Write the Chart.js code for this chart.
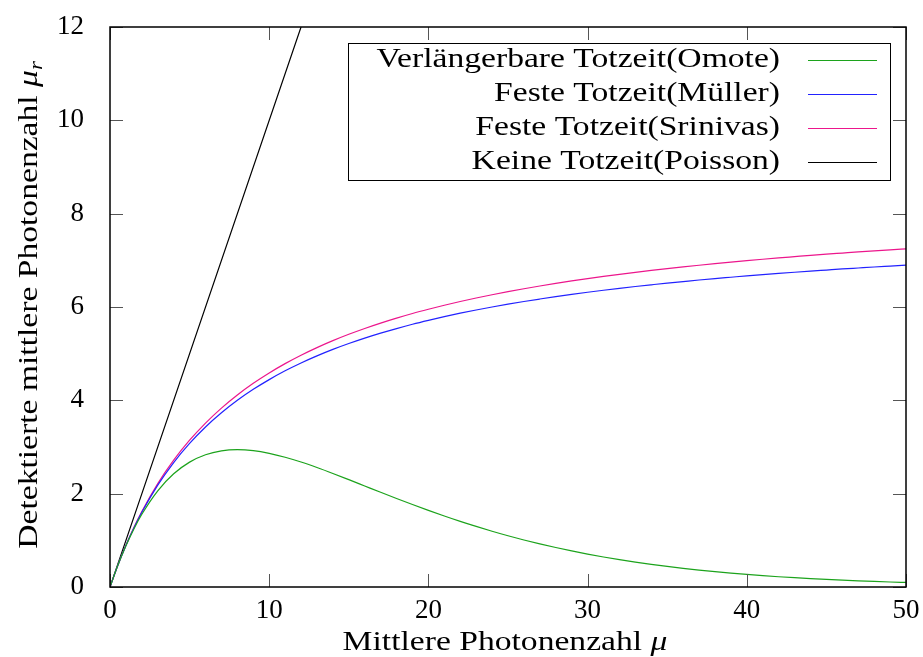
<!DOCTYPE html>
<html>
<head>
<meta charset="utf-8">
<script src="https://cdn.jsdelivr.net/npm/chart.js@4/dist/chart.umd.min.js"></script>
<style>
  html, body { margin: 0; padding: 0; background: #fff; }
  #wrap { width: 923px; height: 657px; }
</style>
</head>
<body>
<div id="wrap"><canvas id="chart" width="923" height="657"></canvas></div>
<script>
// Werte
const muWerte = [0, 0.5, 1, 1.5, 2, 3, 4, 5, 6, 7, 8, 9, 10, 11, 12, 13, 14, 15, 16, 17, 18, 19, 20,
                 21, 22, 23, 24, 25, 26, 27, 28, 29, 30, 31, 32, 33, 34, 35, 36, 37, 38, 39, 40,
                 41, 42, 43, 44, 45, 46, 47, 48, 49, 50];
const omote = [0, 0.470, 0.882, 1.244, 1.558, 2.062, 2.426, 2.676, 2.834, 2.918, 2.943, 2.922, 2.865, 2.781, 2.678, 2.560, 2.433, 2.300, 2.165, 2.030, 1.897, 1.767, 1.642,
               1.521, 1.406, 1.298, 1.195, 1.098, 1.008, 0.924, 0.846, 0.773, 0.706, 0.643, 0.586, 0.533, 0.485, 0.441, 0.400, 0.363, 0.329, 0.298, 0.270,
               0.244, 0.220, 0.199, 0.180, 0.162, 0.146, 0.132, 0.119, 0.107, 0.097];
const mueller = [0, 0.471, 0.889, 1.263, 1.600, 2.182, 2.667, 3.077, 3.429, 3.733, 4.000, 4.235, 4.444, 4.632, 4.800, 4.952, 5.091, 5.217, 5.333, 5.440, 5.538, 5.630, 5.714,
                 5.793, 5.867, 5.935, 6.000, 6.061, 6.118, 6.171, 6.222, 6.270, 6.316, 6.359, 6.400, 6.439, 6.476, 6.512, 6.545, 6.578, 6.609, 6.638, 6.667,
                 6.694, 6.720, 6.745, 6.769, 6.792, 6.815, 6.836, 6.857, 6.877, 6.897];
const srinivas = [0, 0.472, 0.894, 1.274, 1.618, 2.216, 2.717, 3.145, 3.513, 3.834, 4.115, 4.365, 4.587, 4.787, 4.967, 5.130, 5.279, 5.415, 5.540, 5.655, 5.762, 5.861, 5.952,
                  6.038, 6.118, 6.193, 6.263, 6.329, 6.391, 6.450, 6.506, 6.558, 6.608, 6.655, 6.700, 6.743, 6.784, 6.823, 6.860, 6.895, 6.929, 6.962, 6.993,
                  7.023, 7.052, 7.079, 7.106, 7.132, 7.156, 7.180, 7.203, 7.225, 7.246];
const poissonMu = [0, 12];
const poisson = [0, 12];

const xTicks = [0, 10, 20, 30, 40, 50];
const yTicks = [0, 2, 4, 6, 8, 10, 12];

const labels = ['Verlängerbare Totzeit(Omote)', 'Feste Totzeit(Müller)', 'Feste Totzeit(Srinivas)', 'Keine Totzeit(Poisson)'];

const COLORS = {
    omote: '#1ca31c',
    mueller: '#2222ff',
    srinivas: '#ec168c',
    poisson: '#000000'
};

const FONT = '"Liberation Serif", "DejaVu Serif", serif';
// Computer-Modern-Schrift ist breiter als Times: Text horizontal strecken
const STRETCH = 1.2;

function punkte(xs, ys) {
    return xs.map((x, i) => ({ x: x, y: ys[i] }));
}

function serie(label, xs, ys, color) {
    return {
        label: label,
        data: punkte(xs, ys),
        borderColor: color,
        backgroundColor: color,
        borderWidth: 1.2,
        pointRadius: 0,
        cubicInterpolationMode: 'monotone',
        fill: false
    };
}

// Textteile [text, font, dy] nacheinander zeichnen, zentriert um (0,0)
function teileZeichnen(ctx, teile) {
    let breite = 0;
    teile.forEach(t => { ctx.font = t[1]; breite += ctx.measureText(t[0]).width; });
    let x = -breite / 2;
    ctx.textAlign = 'left';
    teile.forEach(t => {
        ctx.font = t[1];
        ctx.fillText(t[0], x, t[2]);
        x += ctx.measureText(t[0]).width;
    });
}

// Rahmen, Ticks nach innen, Legende und Achsentitel im gnuplot-Stil
const gnuplotStil = {
    id: 'gnuplotStil',
    afterDraw(chart) {
        const ctx = chart.ctx;
        const a = chart.chartArea;
        const xs = chart.scales.x;
        const ys = chart.scales.y;
        ctx.save();

        // Ticks
        ctx.strokeStyle = '#555';
        ctx.lineWidth = 1;
        const len = 13;
        ctx.beginPath();
        xTicks.forEach(v => {
            const px = Math.round(xs.getPixelForValue(v)) + 0.5;
            ctx.moveTo(px, a.bottom); ctx.lineTo(px, a.bottom - len);
            ctx.moveTo(px, a.top); ctx.lineTo(px, a.top + len);
        });
        yTicks.forEach(v => {
            const py = Math.round(ys.getPixelForValue(v)) + 0.5;
            ctx.moveTo(a.left, py); ctx.lineTo(a.left + len, py);
            ctx.moveTo(a.right, py); ctx.lineTo(a.right - len, py);
        });
        ctx.stroke();

        // Rahmen
        ctx.strokeStyle = '#000';
        ctx.lineWidth = 1.5;
        ctx.strokeRect(a.left, a.top, a.right - a.left, a.bottom - a.top);

        // Legende
        const box = { left: 348.5, top: 43.5, right: 890.5, bottom: 180.5 };
        ctx.fillStyle = '#fff';
        ctx.fillRect(box.left, box.top, box.right - box.left, box.bottom - box.top);
        ctx.lineWidth = 1;
        ctx.strokeStyle = '#000';
        ctx.strokeRect(box.left, box.top, box.right - box.left, box.bottom - box.top);
        chart.data.datasets.forEach((ds, i) => {
            const yRow = 60 + i * 34;
            ctx.save();
            ctx.translate(780, yRow);
            ctx.scale(STRETCH, 1);
            ctx.font = '28px ' + FONT;
            ctx.textAlign = 'right';
            ctx.textBaseline = 'middle';
            ctx.fillStyle = '#000';
            ctx.fillText(ds.label, 0, 0);
            ctx.restore();
            ctx.strokeStyle = ds.borderColor;
            ctx.lineWidth = 1.2;
            ctx.beginPath();
            ctx.moveTo(808, Math.round(yRow) + 0.5);
            ctx.lineTo(877, Math.round(yRow) + 0.5);
            ctx.stroke();
        });

        ctx.fillStyle = '#000';
        ctx.textBaseline = 'alphabetic';

        // x-Achsentitel
        ctx.save();
        ctx.translate(505, 650);
        ctx.scale(STRETCH, 1);
        teileZeichnen(ctx, [
            ['Mittlere Photonenzahl ', '28px ' + FONT, 0],
            ['μ', 'italic 28px ' + FONT, 0]
        ]);
        ctx.restore();

        // y-Achsentitel (gedreht)
        ctx.save();
        ctx.translate(37, 305);
        ctx.rotate(-Math.PI / 2);
        ctx.scale(STRETCH, 1);
        teileZeichnen(ctx, [
            ['Detektierte mittlere Photonenzahl ', '28px ' + FONT, 0],
            ['μ', 'italic 28px ' + FONT, 0],
            ['r', 'italic 19px ' + FONT, 5]
        ]);
        ctx.restore();

        ctx.restore();
    }
};

new Chart(document.getElementById('chart').getContext('2d'), {
    type: 'line',
    data: {
        datasets: [
            serie(labels[0], muWerte, omote, COLORS.omote),
            serie(labels[1], muWerte, mueller, COLORS.mueller),
            serie(labels[2], muWerte, srinivas, COLORS.srinivas),
            serie(labels[3], poissonMu, poisson, COLORS.poisson)
        ]
    },
    options: {
        responsive: false,
        animation: false,
        layout: { padding: { top: 27, right: 17, left: 0, bottom: 0 } },
        plugins: {
            legend: { display: false },
            tooltip: { enabled: false }
        },
        scales: {
            x: {
                type: 'linear',
                min: 0,
                max: 50,
                afterFit: s => { s.height = 70; s.paddingLeft = 0; s.paddingRight = 0; },
                afterBuildTicks: s => { s.ticks = xTicks.map(v => ({ value: v })); },
                grid: { display: false, drawTicks: false },
                border: { display: false },
                ticks: {
                    padding: 8,
                    color: '#000',
                    font: { family: FONT, size: 27 },
                    maxRotation: 0
                }
            },
            y: {
                type: 'linear',
                min: 0,
                max: 12,
                afterFit: s => { s.width = 110; s.paddingTop = 0; s.paddingBottom = 0; },
                afterBuildTicks: s => { s.ticks = yTicks.map(v => ({ value: v })); },
                grid: { display: false, drawTicks: false },
                border: { display: false },
                ticks: {
                    padding: 26,
                    color: '#000',
                    font: { family: FONT, size: 27 }
                }
            }
        }
    },
    plugins: [gnuplotStil]
});
</script>
</body>
</html>
